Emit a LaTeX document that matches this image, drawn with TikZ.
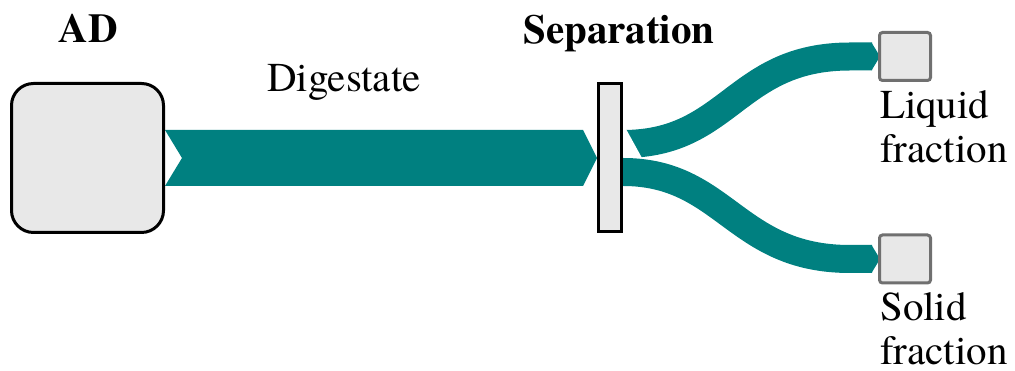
\documentclass[tikz,border=0pt]{standalone}
\usepackage{fontspec}
\setmainfont{texgyretermes}[Extension=.otf, UprightFont=*-regular, BoldFont=*-bold, ItalicFont=*-italic, BoldItalicFont=*-bolditalic]
\usepackage{tikz}
\usepackage{xcolor}
\usetikzlibrary{positioning,backgrounds}
\definecolor{boxgray}{HTML}{E8E8E8}
\definecolor{rimgray}{HTML}{707070}
\definecolor{flowteal}{RGB}{0,128,128}
\tikzstyle{digester} = [rectangle, draw, line width=3pt, fill=boxgray, rounded corners=22pt, inner sep=0pt, minimum width=152pt, minimum height=149pt]
\tikzstyle{separator} = [rectangle, draw, line width=3pt, fill=boxgray, inner sep=0pt, minimum width=23pt, minimum height=148pt]
\tikzstyle{product} = [rectangle, draw=rimgray, line width=3pt, fill=boxgray, rounded corners=3pt, inner sep=0pt, minimum width=51pt, minimum height=48pt]
\tikzstyle{caption} = [inner sep=0pt, font=\fontsize{41}{44}\selectfont]
\tikzstyle{heading} = [inner sep=0pt, font=\fontsize{41}{44}\selectfont\bfseries]
\tikzstyle{flow} = [fill=flowteal]
\tikzstyle{branch} = [draw=flowteal, line width=28pt]

\begin{document}
\begin{tikzpicture}[x=1pt,y=1pt]
  \useasboundingbox (0,0) rectangle (1015,371);
  \node[digester] (AD) at (87.5,213) {};
  \node[separator] (Sep) at (610,213) {};
  \node[product] (Liquid) at (905,314.5) {};
  \node[product] (Solid) at (905,112) {};

  \node[heading, anchor=base] (AD_label) at (88,328) {AD};
  \node[heading, anchor=base] (Sep_label) at (619,327) {Separation};
  \node[caption, anchor=base] (Dig_label) at (344,279) {Digestate};
  \node[caption, anchor=north west, align=left] (Liquid_label) at (880,281) {Liquid\\fraction};
  \node[caption, anchor=north west, align=left] (Solid_label) at (880,79) {Solid\\fraction};

  \begin{pgfonlayer}{background}
    \fill[flow] ([yshift=28pt]AD.east) -- ([xshift=-14pt,yshift=28pt]Sep.west) -- (Sep.west)
      -- ([xshift=-14pt,yshift=-28pt]Sep.west) -- ([yshift=-28pt]AD.east) -- ([xshift=17pt]AD.east) -- cycle;
    \draw[branch] ([yshift=14pt]Sep.east) .. controls +(107,0) and +(-115,0) .. ([xshift=-28pt]Liquid.west)
      -- ([xshift=-6pt]Liquid.west);
    \fill[white] ([yshift=29pt]Sep.east) -- ([xshift=3pt,yshift=29pt]Sep.east) -- ([xshift=19pt]Sep.east) -- (Sep.east) -- cycle;
    \draw[branch] ([yshift=-14pt]Sep.east) .. controls +(102,0) and +(-115,0) .. ([xshift=-28pt]Solid.west)
      -- ([xshift=-6pt]Solid.west);
    \fill[flow] ([xshift=-6.5pt,yshift=14pt]Liquid.west) -- ([xshift=2pt]Liquid.west) -- ([xshift=-6.5pt,yshift=-14pt]Liquid.west) -- cycle;
    \fill[flow] ([xshift=-6.5pt,yshift=14pt]Solid.west) -- ([xshift=2pt]Solid.west) -- ([xshift=-6.5pt,yshift=-14pt]Solid.west) -- cycle;
  \end{pgfonlayer}
\end{tikzpicture}
\end{document}
